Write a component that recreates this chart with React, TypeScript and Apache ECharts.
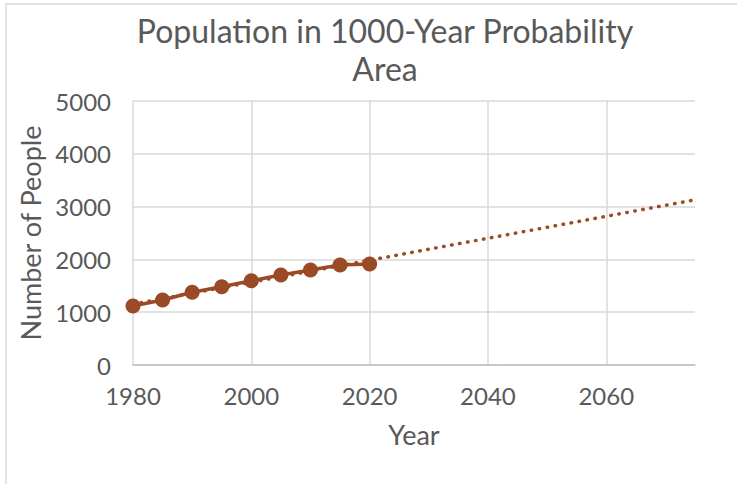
import React, { useEffect, useRef } from "react";
import * as echarts from "echarts";

const years = [1980, 1985, 1990, 1995, 2000, 2005, 2010, 2015, 2020];
const population = [1117, 1231, 1377, 1483, 1597, 1705, 1799, 1894, 1913];
const trendYears = [1980, 2075];
const trendValues = [1152, 3128];
const titleText = "Population in 1000-Year Probability\nArea";
const xName = "Year";
const yName = "Number of People";

const COLOR = "#9B4A26";
const TEXT = "#595959";
const FONT = "Lato";

export default function App() {
  const ref = useRef<HTMLDivElement>(null);
  useEffect(() => {
    if (!ref.current) return;
    const chart = echarts.init(ref.current, null, { renderer: "svg" });
    chart.setOption({
      animation: false,
      backgroundColor: "#ffffff",
      graphic: [
        {
          type: "rect",
          shape: { x: 6, y: 4, width: 800, height: 600 },
          style: { fill: "none", stroke: "#d9d9d9", lineWidth: 1.5 },
          silent: true,
        },
        {
          type: "text",
          x: 385,
          y: 11,
          style: {
            text: titleText,
            fontFamily: FONT,
            fontSize: 32,
            fill: TEXT,
            textAlign: "center",
            lineHeight: 38,
          },
        },
      ],
      grid: { left: 133, right: 42, top: 101, bottom: 119 },
      xAxis: {
        type: "value",
        min: 1980,
        max: 2075,
        interval: 20,
        name: xName,
        nameLocation: "middle",
        nameGap: 56,
        nameTextStyle: { fontFamily: FONT, fontSize: 27, color: TEXT },
        axisLine: { show: true, lineStyle: { color: "#bfbfbf", width: 1.5 } },
        axisTick: { show: false },
        axisLabel: {
          fontFamily: FONT,
          fontSize: 24,
          color: TEXT,
          margin: 18,
          showMaxLabel: false,
          formatter: (v: number) => (v % 20 === 0 ? String(v) : ""),
        },
        splitLine: { show: true, showMaxLine: false, lineStyle: { color: "#d9d9d9", width: 1.5 } },
      },
      yAxis: {
        type: "value",
        min: 0,
        max: 5000,
        interval: 1000,
        name: yName,
        nameLocation: "middle",
        nameGap: 86,
        nameTextStyle: { fontFamily: FONT, fontSize: 27, color: TEXT },
        axisLine: { show: false },
        axisTick: { show: false },
        axisLabel: {
          fontFamily: FONT,
          fontSize: 24,
          color: TEXT,
          margin: 22,
          formatter: (v: number) => String(v),
        },
        splitLine: { show: true, lineStyle: { color: "#d9d9d9", width: 1.5 } },
      },
      series: [
        {
          type: "line",
          data: years.map((y, i) => [y, population[i]]),
          symbol: "circle",
          symbolSize: 15,
          itemStyle: { color: COLOR },
          lineStyle: { color: COLOR, width: 3.5 },
          z: 2,
        },
        {
          type: "line",
          data: trendYears.map((y, i) => [y, trendValues[i]]),
          symbol: "none",
          lineStyle: { color: COLOR, width: 3.5, type: [0.5, 7.6], cap: "round" },
          z: 3,
        },
      ],
    });
    return () => chart.dispose();
  }, []);
  return (
    <div
      ref={ref}
      style={{ position: "fixed", left: 0, top: 0, width: 737, height: 484 }}
    />
  );
}
